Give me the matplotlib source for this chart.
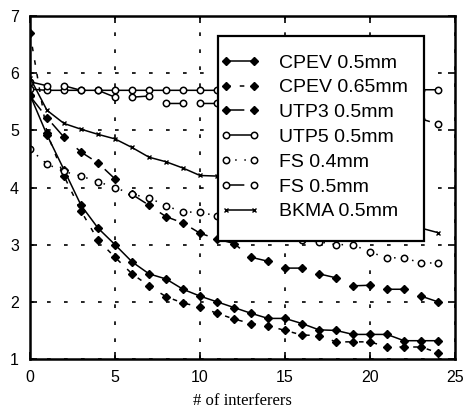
import numpy as np
import matplotlib
matplotlib.use('Agg')
import matplotlib.pyplot as plt
from matplotlib.patches import Rectangle

# interferer count on the x axis
n_interf = list(range(25))

# values
cpev_05 = [5.62, 4.92, 4.31, 3.69, 3.29, 3.00, 2.70, 2.49, 2.40, 2.22, 2.10, 2.00, 1.90,
           1.80, 1.71, 1.71, 1.62, 1.51, 1.50, 1.43, 1.43, 1.43, 1.32, 1.32, 1.32]
cpev_065 = [6.70, 4.95, 4.20, 3.59, 3.08, 2.78, 2.49, 2.28, 2.09, 1.98, 1.91, 1.80, 1.70,
            1.62, 1.58, 1.50, 1.42, 1.41, 1.30, 1.30, 1.30, 1.21, 1.21, 1.21, 1.11]
utp3_05 = [5.60, 5.22, 4.88, 4.62, 4.43, 4.15, 3.88, 3.69, 3.49, 3.38, 3.20, 3.10, 3.02,
           2.78, 2.71, 2.59, 2.59, 2.49, 2.42, 2.28, 2.29, 2.22, 2.22, 2.10, 2.00]
utp5_05 = [5.72, 5.70, 5.70, 5.70, 5.70, 5.70, 5.70, 5.70, 5.70, 5.70, 5.70, 5.70, 5.70,
           5.70, 5.70, 5.70, 5.70, 5.70, 5.70, 5.70, 5.70, 5.70, 5.70, 5.71, 5.71]
fs_04 = [4.67, 4.41, 4.28, 4.20, 4.10, 4.00, 3.88, 3.82, 3.68, 3.57, 3.57, 3.50, 3.42,
         3.35, 3.28, 3.20, 3.08, 3.05, 3.00, 3.00, 2.87, 2.77, 2.77, 2.68, 2.68]
fs_05 = [5.85, 5.78, 5.78, 5.70, 5.70, 5.58, 5.58, 5.60, 5.47, 5.47, 5.47, 5.47, 5.45,
         5.43, 5.42, 5.40, 5.38, 5.35, 5.33, 5.30, 5.28, 5.25, 5.22, 5.20, 5.11]
bkma_05 = [5.92, 5.35, 5.12, 5.02, 4.93, 4.85, 4.70, 4.53, 4.45, 4.34, 4.21, 4.20, 4.10,
           4.00, 3.92, 3.85, 3.77, 3.70, 3.62, 3.55, 3.48, 3.42, 3.35, 3.29, 3.21]

labels = ['CPEV 0.5mm', 'CPEV 0.65mm', 'UTP3 0.5mm', 'UTP5 0.5mm',
          'FS 0.4mm', 'FS 0.5mm', 'BKMA 0.5mm']
xticks = [0, 5, 10, 15, 20, 25]
yticks = [1, 2, 3, 4, 5, 6, 7]

W, H = 473, 415
fig = plt.figure(figsize=(W / 100, H / 100), dpi=100)
ax = fig.add_axes([30 / W, 1 - 359 / H, 425 / W, 343 / H])

long_dash = (0, (12, 11))
k = dict(color='black', lw=1.1)
diamond = dict(marker='D', ms=4.2, mfc='black', mec='black')
circle = dict(marker='o', ms=4.6, mfc='white', mec='black', mew=1.1)

ax.plot(n_interf, cpev_05, ls='-', label=labels[0], **k, **diamond)
ax.plot(n_interf, cpev_065, ls=(0, (3, 6)), label=labels[1], **k, **diamond)
ax.plot(n_interf, utp3_05, ls=long_dash, label=labels[2], **k, **diamond)
ax.plot(n_interf, utp5_05, ls='-', label=labels[3], **k, **circle)
ax.plot(n_interf, fs_04, ls=(0, (1, 5)), label=labels[4], **k, **circle)
ax.plot(n_interf, fs_05, ls=long_dash, label=labels[5], **k, **circle)
ax.plot(n_interf, bkma_05, ls='-', marker='x', ms=3, mew=1.0, label=labels[6], **k)

ax.set_xlim(0, 25)
ax.set_ylim(1, 7)
ax.set_xticks(xticks)
ax.set_yticks(yticks)
ax.grid(True, color='black', ls=(0, (2.2, 8.0)), lw=1.2)
ax.tick_params(direction='in', length=5, width=1.2, top=True, right=True,
               labelsize=11.5, pad=8)
for lab in ax.get_xticklabels() + ax.get_yticklabels():
    lab.set_fontfamily('Liberation Sans')
for sp in ax.spines.values():
    sp.set_linewidth(1.8)

ax.set_xlabel('# of interferers', family='Liberation Serif', fontsize=12, labelpad=6)

# legend box drawn by hand so its size matches the scan
box = Rectangle((218 / W, 1 - 241 / H), 206 / W, 205 / H, transform=fig.transFigure,
                facecolor='white', edgecolor='black', lw=1.6, zorder=4, clip_on=False)
ax.add_patch(box)
leg = ax.legend(loc='upper left', bbox_to_anchor=(220 / W, 1 - 54 / H),
                bbox_transform=fig.transFigure, borderaxespad=0, borderpad=0,
                numpoints=2, handlelength=2.05, labelspacing=0.37,
                handletextpad=1.0, frameon=False,
                prop={'family': 'Liberation Sans', 'size': 14})
leg.set_zorder(5)

plt.savefig('out.png', dpi=100)
